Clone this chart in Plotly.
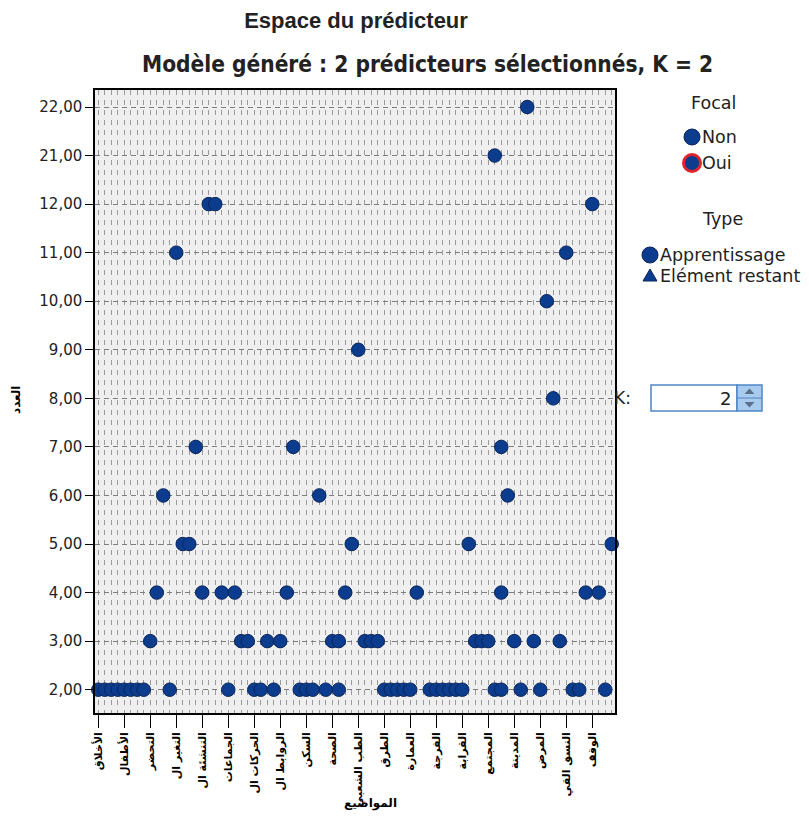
import plotly.graph_objects as go

# The page adds an 8 px body margin, so the figure is drawn 16 px smaller
# and every position below is given in window pixels (figure + 8 px).
OFF = 8
WIN_W, WIN_H = 809, 821
W, H = WIN_W - 2 * OFF, WIN_H - 2 * OFF
L, R, T, B = 95, 615, 90, 713            # plot area in window pixels

# ---- data -------------------------------------------------------------
topic_labels = [
    "الأخلاق", "الأطفال", "التحضر", "التغير ال", "التنشئة ال",
    "الجماعات", "الحركات ال", "الروابط ال", "السكن", "الصحة",
    "الطب الشعبي", "الطرق", "العمارة", "الفرجة", "القرابة",
    "المجتمع", "المدينة", "المرض", "النسق القي", "الوقف",
]
n_topic_codes = 80                        # topic categories on the axis
label_codes = list(range(0, 80, 4))       # codes that carry a visible label

count_levels = ["2,00", "3,00", "4,00", "5,00", "6,00", "7,00", "8,00",
                "9,00", "10,00", "11,00", "12,00", "21,00", "22,00"]

# topic code of each training case, grouped by its count value
codes_2 = [0, 1, 2, 3, 4, 5, 6, 7, 11, 20, 24, 25, 27, 31, 32, 33, 35, 37,
           44, 45, 46, 47, 48, 51, 52, 53, 54, 55, 56, 61, 62, 65, 68, 73, 74, 78]
codes_3 = [8, 22, 23, 26, 28, 36, 37, 41, 42, 43, 58, 59, 60, 64, 67, 71]
codes_4 = [9, 16, 19, 21, 29, 38, 49, 62, 75, 77]
codes_5 = [13, 14, 39, 57, 79]
codes_6 = [10, 34, 63]
codes_7 = [15, 30, 62]
codes_8 = [70]
codes_9 = [40]
codes_10 = [69]
codes_11 = [12, 72]
codes_12 = [17, 18, 76]
codes_21 = [61]
codes_22 = [66]

groups = [("2,00", codes_2), ("3,00", codes_3), ("4,00", codes_4),
          ("5,00", codes_5), ("6,00", codes_6), ("7,00", codes_7),
          ("8,00", codes_8), ("9,00", codes_9), ("10,00", codes_10),
          ("11,00", codes_11), ("12,00", codes_12), ("21,00", codes_21),
          ("22,00", codes_22)]

xs, ys = [], []
for level, codes in groups:
    xs += codes
    ys += [level] * len(codes)

# ---- style ------------------------------------------------------------
BLUE = "#0c3c8e"
EDGE = "#0a2458"
RED = "#e4222b"
TXT = "#222222"
SANS = "DejaVu Sans"
GRID = "#9a9a9a"


def pxx(p):
    return (p - L) / (R - L)


def pxy(p):
    return (B - p) / (B - T)


fig = go.Figure()

fig.add_trace(go.Scatter(
    x=xs, y=ys, mode="markers", showlegend=False, cliponaxis=False,
    marker=dict(symbol="circle", size=13.5, color=BLUE,
                line=dict(color=EDGE, width=1)),
    hoverinfo="x+y",
))

fig.update_layout(
    width=W, height=H,
    margin=dict(l=L - OFF, r=W - (R - OFF), t=T - OFF, b=H - (B - OFF),
                autoexpand=False),
    paper_bgcolor="white",
    plot_bgcolor="#efefef",
    showlegend=False,
    font=dict(family=SANS, color=TXT, size=14),
    title=dict(text="Espace du prédicteur", x=(356 - OFF) / W, xanchor="center",
               y=1 - (20 - OFF) / H, yanchor="middle",
               font=dict(family="Liberation Sans", size=22, color=TXT,
                         weight="bold")),
    xaxis=dict(
        range=[-0.5, n_topic_codes - 0.5], automargin=False,
        tickmode="array", tickvals=label_codes, ticktext=topic_labels,
        tickangle=-90, ticks="outside", ticklen=13, tickcolor="black",
        tickfont=dict(family=SANS, size=11, color="black", weight="bold"),
        showline=True, linecolor="black", linewidth=1.5, mirror=True,
        showgrid=True, gridcolor=GRID, griddash="5px,5px", gridwidth=1,
        minor=dict(dtick=1, tick0=0, showgrid=True, gridcolor=GRID,
                   griddash="5px,5px", gridwidth=1, ticks=""),
        zeroline=False,
    ),
    yaxis=dict(
        type="category", categoryorder="array", categoryarray=count_levels,
        range=[-0.48, len(count_levels) - 0.65], automargin=False,
        ticks="outside", ticklen=8, tickcolor="black",
        tickfont=dict(family=SANS, size=15, color=TXT),
        showline=True, linecolor="black", linewidth=1.5, mirror=True,
        showgrid=True, gridcolor="#7e7e7e", griddash="5px,4px", gridwidth=1,
        zeroline=False,
    ),
)

# subtitle
fig.add_annotation(
    text="Modèle généré : 2 prédicteurs sélectionnés, K = 2",
    xref="paper", yref="paper", x=pxx(427), y=pxy(64),
    xanchor="center", yanchor="middle", showarrow=False,
    font=dict(family="DejaVu Sans Condensed, Liberation Sans",
              size=22.5, color=TXT, weight="bold"),
)

# axis titles
fig.add_annotation(text="المواضيع", xref="paper", yref="paper",
                   x=pxx(370), y=pxy(803), xanchor="center", yanchor="middle",
                   showarrow=False,
                   font=dict(family=SANS, size=12, color="black", weight="bold"))
fig.add_annotation(text="العدد", xref="paper", yref="paper",
                   x=pxx(16), y=pxy(400), xanchor="center", yanchor="middle",
                   textangle=-90, showarrow=False,
                   font=dict(family=SANS, size=12, color="black", weight="bold"))

# ---- legend (drawn) ---------------------------------------------------
LEG = dict(family=SANS, size=17.5, color=TXT)


def circle(cx, cy, r, fill, line_color, line_width):
    fig.add_shape(type="circle", xref="paper", yref="paper",
                  x0=pxx(cx - r), x1=pxx(cx + r), y0=pxy(cy + r), y1=pxy(cy - r),
                  fillcolor=fill, line=dict(color=line_color, width=line_width))


def text(s, x, y, anchor="left", font=LEG):
    fig.add_annotation(text=s, xref="paper", yref="paper", x=pxx(x), y=pxy(y),
                       xanchor=anchor, yanchor="middle", showarrow=False,
                       font=font)


text("Focal", 713, 103, "center")
circle(692, 137, 8, BLUE, EDGE, 1)
text("Non", 700, 137)
circle(692, 163, 8.5, BLUE, RED, 3)
text("Oui", 700, 163)

text("Type", 722, 219, "center")
circle(650, 255, 8, BLUE, EDGE, 1)
text("Apprentissage", 658, 255)
tri_pts = [(643, 281), (657, 281), (650, 269)]
fig.add_shape(type="path", xref="paper", yref="paper",
              path="M " + " L ".join(f"{pxx(a)},{pxy(b)}" for a, b in tri_pts) + " Z",
              fillcolor=BLUE, line=dict(color=EDGE, width=1))
text("Elément restant", 658, 276)

# ---- K spin box ---------------------------------------------------------
text("K:", 612, 398, "left", dict(family=SANS, size=17, color=TXT))
fig.add_shape(type="rect", xref="paper", yref="paper",
              x0=pxx(651), x1=pxx(737), y0=pxy(411), y1=pxy(385),
              line=dict(color="#4f86c6", width=1.5), fillcolor="white")
text("2", 733, 398, "right", dict(family=SANS, size=18, color=TXT))
fig.add_shape(type="rect", xref="paper", yref="paper",
              x0=pxx(737), x1=pxx(762), y0=pxy(411), y1=pxy(385),
              line=dict(color="#4f86c6", width=1.5), fillcolor="#a8cbee")
fig.add_shape(type="line", xref="paper", yref="paper",
              x0=pxx(737), x1=pxx(762), y0=pxy(398), y1=pxy(398),
              line=dict(color="#4f86c6", width=1))


def arrow(cx, cy, up):
    d = -1 if up else 1
    pts = [(cx - 5, cy - d * 2.5), (cx + 5, cy - d * 2.5), (cx, cy + d * 3)]
    return "M " + " L ".join(f"{pxx(a)},{pxy(b)}" for a, b in pts) + " Z"


fig.add_shape(type="path", xref="paper", yref="paper", path=arrow(749.5, 391.5, True),
              line=dict(width=0), fillcolor="#5b6f8c")
fig.add_shape(type="path", xref="paper", yref="paper", path=arrow(749.5, 404.5, False),
              line=dict(width=0), fillcolor="#5b6f8c")

fig.write_html("out.html")
